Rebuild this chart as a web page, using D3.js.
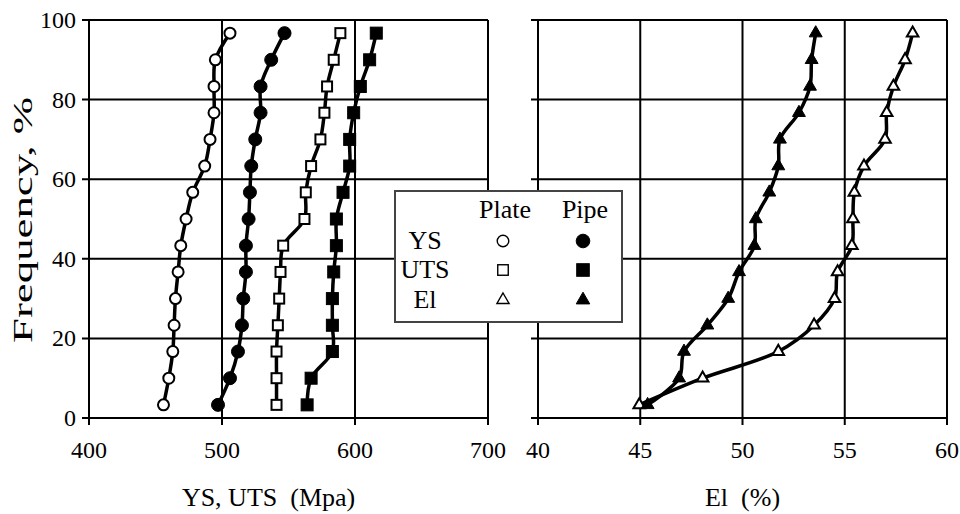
<!DOCTYPE html>
<html>
<head>
<meta charset="utf-8">
<script src="https://cdn.jsdelivr.net/npm/d3@7"></script>
<style>
  body { margin: 0; background: #fff; }
  text { font-family: "Liberation Serif", "Times New Roman", Times, serif; fill: #000; white-space: pre; }
</style>
</head>
<body>
<div id="chart"></div>
<script>
// cumulative frequency (%) of each sample
const freq = [3.3, 10, 16.7, 23.3, 30, 36.7, 43.3, 50, 56.7, 63.3, 70, 76.7, 83.3, 90, 96.7];

// left panel, MPa
const ysPlate  = [456, 460, 463, 464, 465, 467, 469, 473, 478, 487, 491, 494, 494, 495, 506];
const ysPipe   = [497, 506, 512, 515, 516, 518, 518, 520, 521, 522, 525, 529, 529, 537, 547];
const utsPlate = [541, 541, 541, 542, 543, 544, 546, 562, 563, 567, 574, 577, 579, 584, 589];
const utsPipe  = [564, 567, 583, 583, 583, 584, 586, 586, 591, 596, 596, 599, 604, 611, 616];

// right panel, %
const elPlate = [44.95, 48.05, 51.75, 53.5, 54.5, 54.65, 55.35, 55.4, 55.47, 55.94, 56.97, 57.05, 57.38, 57.95, 58.32];
const elPipe  = [45.36, 46.9, 47.14, 48.28, 49.3, 49.83, 50.58, 50.65, 51.31, 51.75, 51.83, 52.76, 53.3, 53.38, 53.58];

const freqTicks = [0, 20, 40, 60, 80, 100];
const strengthTicks = [400, 500, 600, 700];
const elTicks = [40, 45, 50, 55, 60];

const width = 960, height = 514;

const svg = d3.select("#chart").append("svg")
  .attr("width", width)
  .attr("height", height);

const y = d3.scaleLinear().domain([0, 100]).range([418, 20]);
const xL = d3.scaleLinear().domain([400, 700]).range([89, 488]);
const xR = d3.scaleLinear().domain([40, 60]).range([538, 947]);

// grid + axis frame for one panel
function drawFrame(x, xTicks, withYLabels) {
  const g = svg.append("g");
  const [x0, x1] = x.range();

  g.selectAll(".hgrid")
    .data(freqTicks)
    .enter().append("line")
    .attr("x1", x0 - 7).attr("x2", x1)
    .attr("y1", d => y(d)).attr("y2", d => y(d))
    .attr("stroke", "#000").attr("stroke-width", 2);

  g.selectAll(".vgrid")
    .data(xTicks)
    .enter().append("line")
    .attr("x1", d => x(d)).attr("x2", d => x(d))
    .attr("y1", y(0) + 7).attr("y2", y(100))
    .attr("stroke", "#000").attr("stroke-width", 2);

  g.selectAll(".xlab")
    .data(xTicks)
    .enter().append("text")
    .attr("x", d => x(d))
    .attr("y", 458)
    .attr("text-anchor", "middle")
    .style("font-size", "24px")
    .text(d => d);

  if (withYLabels) {
    g.selectAll(".ylab")
      .data(freqTicks)
      .enter().append("text")
      .attr("x", x0 - 13)
      .attr("y", d => y(d) + 8)
      .attr("text-anchor", "end")
      .style("font-size", "24px")
      .text(d => d);
  }
}

drawFrame(xL, strengthTicks, true);
drawFrame(xR, elTicks, false);

// data series
const series = [
  { vals: ysPlate,  x: xL, shape: "circle",   filled: false },
  { vals: ysPipe,   x: xL, shape: "circle",   filled: true },
  { vals: utsPlate, x: xL, shape: "square",   filled: false },
  { vals: utsPipe,  x: xL, shape: "square",   filled: true },
  { vals: elPlate,  x: xR, shape: "triangle", filled: false },
  { vals: elPipe,   x: xR, shape: "triangle", filled: true }
];

function marker(sel, shape, filled, scale) {
  const k = scale || 1;
  if (shape === "circle") {
    sel.append("circle").attr("r", (filled ? 6.5 : 5.5) * k);
  } else if (shape === "square") {
    const s = (filled ? 12 : 10) * k;
    sel.append("rect").attr("x", -s / 2).attr("y", -s / 2).attr("width", s).attr("height", s);
  } else {
    sel.append("path").attr("d", d3.symbol(d3.symbolTriangle, (filled ? 72 : 58) * k * k)());
  }
}

series.forEach(s => {
  const pts = s.vals.map((v, i) => [s.x(v), y(freq[i])]);

  svg.append("path")
    .datum(pts)
    .attr("d", d3.line().curve(d3.curveCatmullRom.alpha(0.5)))
    .attr("fill", "none")
    .attr("stroke", "#000")
    .attr("stroke-width", 3.5);

  const m = svg.append("g").selectAll("g")
    .data(pts)
    .enter().append("g")
    .attr("transform", d => `translate(${d[0]},${d[1]})`);

  marker(m, s.shape, s.filled);
  m.selectAll("*")
    .attr("fill", s.filled ? "#000" : "#fff")
    .attr("stroke", "#000")
    .attr("stroke-width", s.filled ? 1 : 2);
});

// axis titles
svg.append("text")
  .attr("x", xL(535)).attr("y", 506)
  .attr("text-anchor", "middle")
  .style("font-size", "26px")
  .text("YS, UTS  (Mpa)");

svg.append("text")
  .attr("x", xR(50)).attr("y", 506)
  .attr("text-anchor", "middle")
  .style("font-size", "26px")
  .text("El  (%)");

svg.append("text")
  .attr("transform", `translate(32, ${y(50) + 1}) rotate(-90)`)
  .attr("text-anchor", "middle")
  .attr("textLength", 246)
  .attr("lengthAdjust", "spacingAndGlyphs")
  .style("font-size", "28px")
  .text("Frequency, %");

// legend
const legRows = ["YS", "UTS", "El"];
const legShapes = ["circle", "square", "triangle"];
const legCols = ["Plate", "Pipe"];

const leg = svg.append("g");
leg.append("rect")
  .attr("x", 395).attr("y", 191)
  .attr("width", 227).attr("height", 131)
  .attr("fill", "#fff")
  .attr("stroke", "#444")
  .attr("stroke-width", 2);

const colX = [505, 585];
const rowY = [241, 270, 300];

leg.selectAll(".colh")
  .data(legCols)
  .enter().append("text")
  .attr("x", (d, i) => colX[i])
  .attr("y", 218)
  .attr("text-anchor", "middle")
  .style("font-size", "26px")
  .text(d => d);

leg.selectAll(".rowh")
  .data(legRows)
  .enter().append("text")
  .attr("x", 425)
  .attr("y", (d, i) => rowY[i] + 8)
  .attr("text-anchor", "middle")
  .style("font-size", "26px")
  .text(d => d);

legShapes.forEach((shape, r) => {
  [false, true].forEach((filled, c) => {
    const g = leg.append("g").attr("transform", `translate(${colX[c] - 2},${rowY[r]})`);
    marker(g, shape, filled, 1.05);
    g.selectAll("*")
      .attr("fill", filled ? "#000" : "#fff")
      .attr("stroke", "#000")
      .attr("stroke-width", filled ? 1 : 1.4);
  });
});
</script>
</body>
</html>
